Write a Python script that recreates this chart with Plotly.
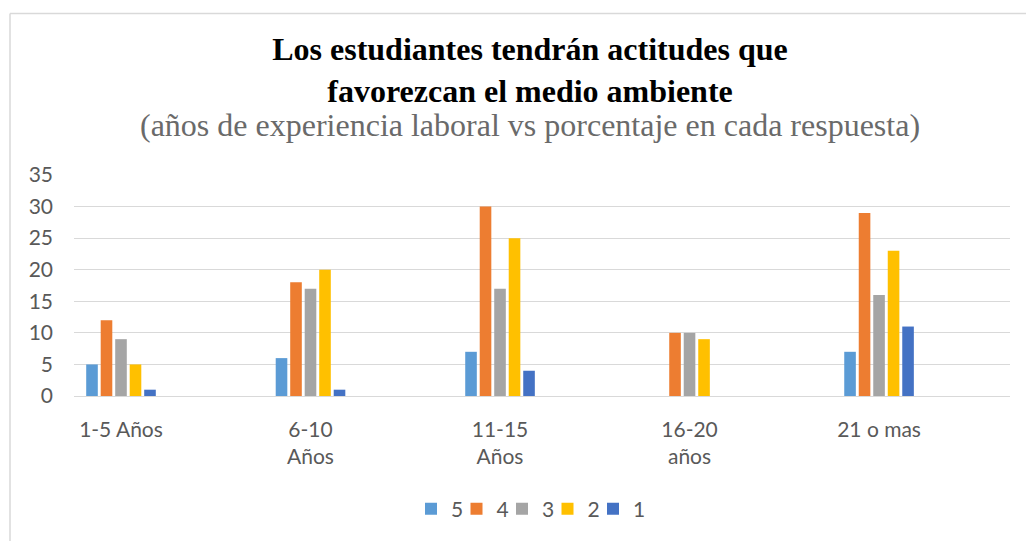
import plotly.graph_objects as go

categories = ["1-5 Años", "6-10<br>Años", "11-15<br>Años", "16-20<br>años", "21 o mas"]
series_names = ["5", "4", "3", "2", "1"]
s5 = [5, 6, 7, 0, 7]
s4 = [12, 18, 30, 10, 29]
s3 = [9, 17, 17, 10, 16]
s2 = [5, 20, 25, 9, 23]
s1 = [1, 1, 4, 0, 11]
colors = ["#5B9BD5", "#ED7D31", "#A5A5A5", "#FFC000", "#4472C4"]

# page offset (HTML body margin)
OX, OY = 8, 7
W, H = 1034 - OX, 541 - OY
# plot area in page pixels: x 74..1010, y 174..397
L, R, T, B = 74 - OX, 1034 - 1010, 174 - OY, 541 - 397
plot_w = W - L - R
plot_h = H - T - B

def px(p):  # page x pixel -> paper x
    return (p - OX - L) / plot_w

def py(p):  # page y pixel -> paper y
    return (H - B - (p - OY)) / plot_h

fig = go.Figure()
for i, (name, vals, col) in enumerate(zip(series_names, [s5, s4, s3, s2, s1], colors)):
    fig.add_trace(go.Bar(x=categories, y=vals, name=name,
                         legendwidth=(0.5 if i < len(series_names) - 1 else 16),
                         marker=dict(color=col, line=dict(width=0))))

fig.update_layout(
    width=W, height=H,
    margin=dict(l=L, r=R, t=T, b=B),
    paper_bgcolor="white", plot_bgcolor="white",
    barmode="group", bargap=0.6174, bargroupgap=0.2,
    font=dict(family="Lato, Open Sans, sans-serif", color="#595959", size=21),
    title=dict(
        text="<b>Los estudiantes tendrán actitudes que<br>favorezcan el medio ambiente</b>",
        font=dict(family="Liberation Serif, Times New Roman, serif", size=32, color="#000000"),
        xref="container", x=(530 - OX) / W, xanchor="center",
        yref="container", y=1 - (59 - OY) / H, yanchor="middle",
    ),
    xaxis=dict(
        type="category", range=[-0.248, 4.691],
        showgrid=False, showline=False, ticks="",
        tickfont=dict(size=21, color="#595959"),
        ticklabelstandoff=19,
    ),
    yaxis=dict(
        range=[0, 35], dtick=5, tick0=0,
        showgrid=True, gridcolor="#D9D9D9", gridwidth=1.4,
        zeroline=True, zerolinecolor="#D9D9D9", zerolinewidth=1.4,
        showline=False, ticks="",
        tickfont=dict(size=21, color="#595959"),
        ticklabelstandoff=20,
    ),
    legend=dict(
        orientation="h", x=px(411), xanchor="left",
        y=py(511), yanchor="middle",
        font=dict(size=21, color="#595959"),
        traceorder="normal", entrywidthmode="pixels",
    ),
    annotations=[dict(
        text="(años de experiencia laboral vs porcentaje en cada respuesta)",
        xref="paper", yref="paper",
        x=px(530), y=py(124),
        xanchor="center", yanchor="middle", showarrow=False,
        font=dict(family="Liberation Serif, Times New Roman, serif", size=32, color="#6A6A6A"),
    )],
    shapes=[
        dict(type="line", xref="paper", yref="paper",
             x0=px(10), x1=px(10), y0=py(11), y1=py(560),
             line=dict(color="#D9D9D9", width=1.5)),
        dict(type="line", xref="paper", yref="paper",
             x0=px(10), x1=px(1050), y0=py(11), y1=py(11),
             line=dict(color="#D9D9D9", width=1.5)),
    ],
)

fig.write_html("out.html")
